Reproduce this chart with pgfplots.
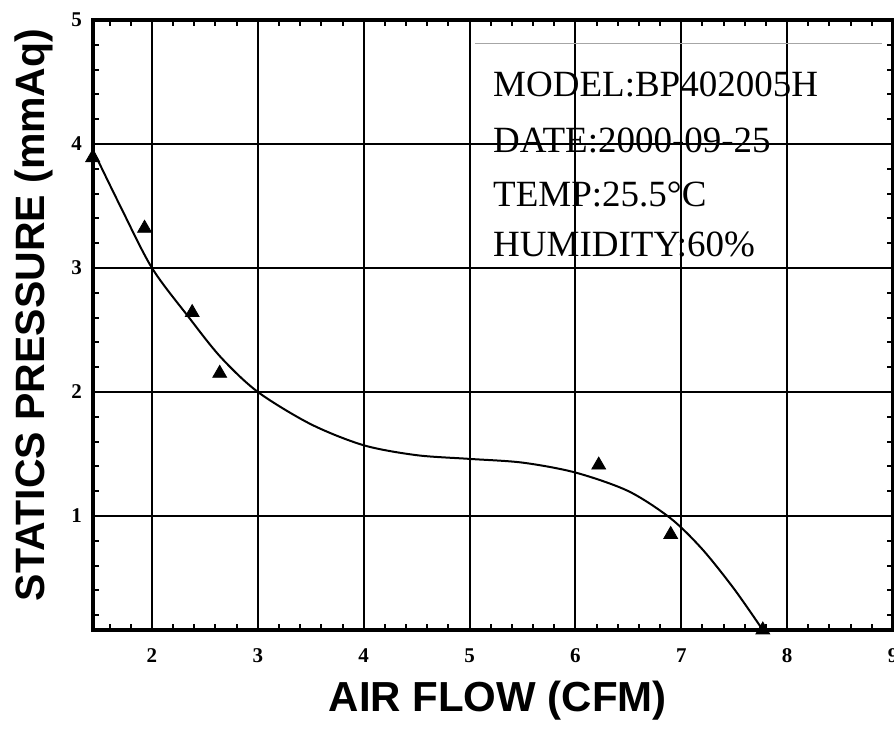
\documentclass[border=0pt]{standalone}
\usepackage{fontspec}
\setmainfont{Liberation Serif}
\newfontfamily\sansfont{Liberation Sans}
\usepackage{pgfplots}
\pgfplotsset{compat=1.18}
\begin{document}
\begin{tikzpicture}
\begin{axis}[
  scale only axis,
  width=400pt, height=305pt,
  xmin=1.443, xmax=9, ymin=0.08, ymax=5,
  xtick={2,3,4,5,6,7,8,9},
  ytick={1,2,3,4,5},
  minor xtick={1.6,1.8,2.2,2.4,2.6,2.8,3.2,3.4,3.6,3.8,4.2,4.4,4.6,4.8,5.2,5.4,5.6,5.8,6.2,6.4,6.6,6.8,7.2,7.4,7.6,7.8,8.2,8.4,8.6,8.8},
  minor ytick={0.2,0.4,0.6,0.8,1.2,1.4,1.6,1.8,2.2,2.4,2.6,2.8,3.2,3.4,3.6,3.8,4.2,4.4,4.6,4.8},
  tick align=inside,
  major tick length=0pt,
  minor tick length=3pt,
  every minor tick/.style={line width=1pt, black},
  grid=major,
  major grid style={line width=1pt, black},
  axis line style={line width=2.2pt},
  /pgf/number format/assume math mode=true,
  tick label style={font=\bfseries\fontsize{10.5}{12}\selectfont},
  xticklabel style={yshift=-5.5pt, text height=7pt, text depth=0pt},
  yticklabel style={xshift=-2pt},
  clip=false,
]
\addplot[black, line width=1pt, smooth] coordinates {
 (1.443,3.95) (1.7,3.5) (2,3.0) (2.35,2.6) (2.65,2.28) (3,2.0) (3.5,1.74)
 (4,1.57) (4.5,1.49) (5,1.46) (5.5,1.43) (6,1.35) (6.5,1.2) (6.9,0.98)
 (7.2,0.73) (7.5,0.41) (7.77,0.08)
};
\addplot[only marks, mark=triangle*, mark size=4pt, black] coordinates {
 (1.44,3.89) (1.93,3.32) (2.38,2.64) (2.64,2.15) (6.22,1.41) (6.9,0.85) (7.77,0.08)
};
\draw[gray!70, line width=0.5pt] (axis cs:5.05,4.81) -- (axis cs:8.9,4.81);
\node[anchor=base west, inner sep=0pt, font=\fontsize{18.5}{20}\selectfont] at (axis cs:5.22,4.379) {MODEL:BP402005H};
\node[anchor=base west, inner sep=0pt, font=\fontsize{18.5}{20}\selectfont] at (axis cs:5.22,3.935) {DATE:2000-09-25};
\node[anchor=base west, inner sep=0pt, font=\fontsize{18.5}{20}\selectfont] at (axis cs:5.22,3.492) {TEMP:25.5°C};
\node[anchor=base west, inner sep=0pt, font=\fontsize{18.5}{20}\selectfont] at (axis cs:5.22,3.089) {HUMIDITY:60\%};
\node[rotate=90, anchor=center, inner sep=0pt, font=\sansfont\bfseries\fontsize{20.5}{24}\selectfont] at ([xshift=-29.5pt,yshift=5pt]axis description cs:0,0.5) {STATICS PRESSURE (mmAq)};
\node[anchor=center, inner sep=0pt, font=\sansfont\bfseries\fontsize{21}{24}\selectfont] at ([yshift=-35.5pt]axis description cs:0.506,0) {AIR FLOW (CFM)};
\end{axis}
\pgfresetboundingbox
\path[use as bounding box] (-46.5pt,-51pt) rectangle (400.5pt,315pt);
\end{tikzpicture}
\end{document}
